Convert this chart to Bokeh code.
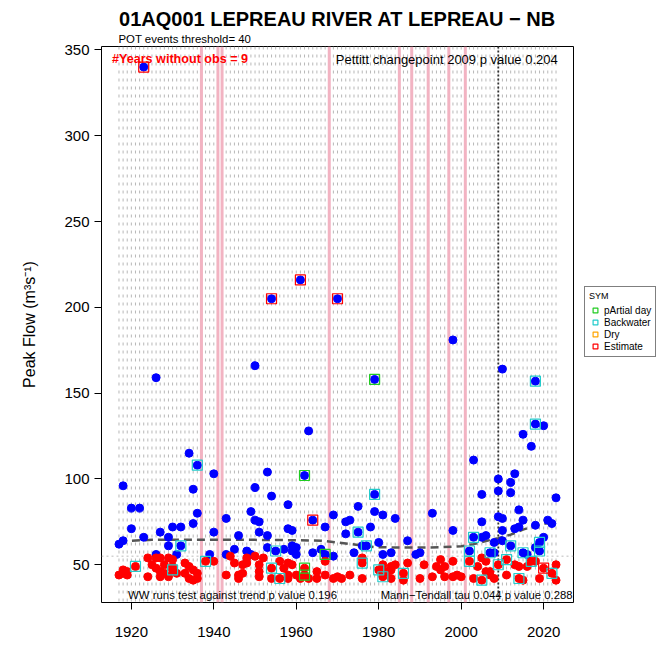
from bokeh.plotting import figure
from bokeh.layouts import row
from bokeh.models import (Range1d, Label, Span, Legend, LegendItem, FixedTicker,
                          ColumnDataSource, Title)
from bokeh.embed import file_html
from bokeh.resources import INLINE

FONT = "Liberation Sans"

TITLE = "01AQ001 LEPREAU RIVER AT LEPREAU \u2212 NB"
POT_TEXT = "POT events threshold= 40"
MISSING_TEXT = "#Years without obs = 9"
PETTITT_TEXT = "Pettitt changepoint 2009 p value 0.204"
WW_TEXT = "WW runs test against trend p value 0.196"
MK_TEXT = "Mann\u2212Tendall tau 0.044 p value 0.288"
Y_LABEL = "Peak Flow (m\u00b3s\u207b\u00b9)"

x_ticks = [1920, 1940, 1960, 1980, 2000, 2020]
y_ticks = [50, 100, 150, 200, 250, 300, 350]

first_year = 1917
last_year = 2023
missing_years = [1937, 1941, 1942, 1968, 1985, 1988, 1992, 1997, 2001]
pettitt_year = 2009
ref_level = 55

# events above the reference level (blue) : year, flow, symbol flag
blue_year = [1923, 1926, 1950, 1954, 1961, 1970, 1979, 1998, 2010, 2018,
             1963, 2015, 2018, 2020, 2017, 2003,
             1934, 1936, 1940, 1918, 1935, 1920, 1922, 1936, 1920, 1930, 1932, 1935, 1927, 1940,
             1923, 1918, 1917, 1929, 1929, 1932, 1931, 1926, 1939,
             1953, 1962, 1950, 1954, 1958, 1949, 1943, 1950, 1951, 1964, 1969, 1967, 1951, 1953,
             1958, 1959, 1946, 1945, 1943, 1948, 1949, 1953, 1955, 1957, 1959, 1960, 1959, 1960,
             1964, 1966, 1967, 1969,
             1979, 1975, 1979, 1981, 1984, 1993, 1972, 1973, 1978, 1972, 1975, 1998, 1980, 1987,
             1977, 1976, 1974, 1981, 1983, 1989, 1990,
             2013, 2012, 2009, 2009, 2005, 2023, 2012, 2014, 2009, 2010, 2015, 2005, 2021, 2022,
             2018, 2013, 2014, 2010, 2003, 2005, 2006, 2010, 2008, 2020, 2012, 2019, 2019, 2018,
             2002, 2007, 2008, 2015, 2016]
blue_flow = [340, 159, 166, 205, 216, 205, 158, 181, 164, 157,
             128, 126, 132, 131, 119, 111,
             115, 108, 103, 96, 94, 83, 83, 80, 71, 72, 72, 74, 69, 69,
             66, 64, 62, 66, 61, 61, 56, 56, 56,
             104, 102, 95, 90, 85, 81, 77, 76, 75, 76, 79, 72, 69, 67,
             71, 70, 67, 59, 56, 58, 56, 60, 58, 59, 61, 60, 58, 56,
             57, 59, 56, 55,
             91, 84, 81, 79, 77, 80, 75, 76, 72, 68, 69, 70, 63, 64,
             61, 61, 57, 56, 57, 56, 57,
             103, 98, 100, 93, 91, 89, 92, 82, 78, 77, 76, 75, 76, 74,
             73, 71, 72, 70, 66, 66, 67, 64, 63, 66, 61, 63, 58, 60,
             58, 57, 57, 57, 56]
blue_flag = ["E", "", "", "E", "E", "E", "P", "", "", "B",
             "", "", "B", "", "", "",
             "", "B", "", "", "", "", "", "", "", "", "", "", "", "",
             "", "", "", "", "", "B", "", "", "",
             "", "P", "", "", "", "", "", "", "", "E", "", "", "", "",
             "", "", "", "", "", "", "", "", "B", "", "", "", "", "",
             "", "", "P", "",
             "B", "", "", "", "", "", "", "", "", "", "B", "", "", "",
             "B", "", "", "", "", "", "",
             "", "", "", "", "", "", "", "", "", "", "", "", "", "",
             "", "", "", "", "B", "", "", "", "", "", "B", "B", "B", "",
             "B", "B", "", "B", ""]

# events below the reference level (red)
red_year = [1917, 1918, 1919, 1919, 1918, 1921, 1924, 1924, 1925, 1926, 1927, 1929, 1930, 1928,
            1930, 1927, 1928, 1927, 1929, 1930, 1931, 1933, 1934, 1933, 1934, 1935, 1936, 1935,
            1936, 1938, 1940, 1926,
            1943, 1944, 1945, 1947, 1948, 1946, 1947, 1948, 1950, 1946, 1951, 1951, 1951, 1952,
            1954, 1954, 1956, 1956, 1957, 1958, 1959, 1958, 1958, 1960, 1961, 1962, 1962, 1963,
            1965, 1965, 1967, 1967, 1969,
            1970, 1971, 1973, 1976, 1976, 1976, 1980, 1981, 1981, 1983, 1984, 1987, 1982, 1983,
            1983, 1986, 1986, 1990, 1991, 1993, 1994, 1995, 1995, 1996, 1996, 1998,
            1998, 1999, 2000, 2002, 2003, 2005, 2005, 2006, 2004, 2006, 2007, 2008, 2007, 2009,
            2011, 2011, 2013, 2014, 2014, 2015, 2016, 2017, 2018, 2020, 2022, 2023, 2023, 2019]
red_flow = [44, 45, 44, 46, 47, 49, 43, 54, 50, 48, 54, 54, 53, 50,
            49, 46, 45, 43, 43, 47, 45, 51, 49, 45, 42, 41, 45, 47,
            42, 52, 52, 54,
            44, 55, 51, 50, 51, 44, 45, 54, 55, 42, 50, 46, 43, 54,
            48, 42, 42, 52, 48, 51, 50, 44, 42, 44, 42, 48, 44, 42,
            42, 46, 52, 44, 42,
            43, 42, 44, 42, 54, 51, 47, 43, 50, 49, 50, 51, 46, 47,
            42, 41, 45, 42, 50, 43, 49, 53, 47, 43, 49, 52,
            43, 44, 43, 52, 42, 41, 54, 52, 49, 46, 44, 42, 46, 50,
            53, 44, 50, 49, 42, 41, 49, 52, 52, 48, 45, 50, 41, 42]
red_flag = ["", "", "", "", "", "B", "", "", "", "", "", "", "", "",
            "", "", "", "", "", "B", "", "", "", "", "", "", "", "",
            "", "B", "", "",
            "", "", "", "", "", "", "", "", "", "", "", "", "", "",
            "B", "", "B", "", "", "", "", "", "", "", "", "P", "P", "",
            "", "", "", "", "",
            "", "", "", "", "", "B", "B", "B", "", "", "", "", "", "",
            "", "", "B", "", "", "", "", "", "", "", "", "",
            "", "", "", "B", "", "B", "", "", "", "", "", "", "", "B",
            "B", "", "", "", "B", "", "", "B", "", "E", "B", "", "", ""]

trend_year = [1917, 1920, 1925, 1930, 1940, 1950, 1960, 1966, 1970, 1975, 1979, 1985,
              1990, 1995, 2000, 2003, 2006, 2009, 2012, 2015, 2018, 2022]
trend_flow = [63.5, 64.0, 64.5, 64.5, 64.5, 64.5, 64.3, 64.0, 63.0, 61.5, 60.3, 60.0,
              60.0, 60.2, 60.8, 62.0, 63.8, 65.5, 67.5, 70.5, 72.8, 74.8]

flag_names = [("P", "pArtial day", "#22CC22"), ("B", "Backwater", "#22CCCC"),
              ("D", "Dry", "#FFA500"), ("E", "Estimate", "#FF0000")]

p = figure(width=584, height=647, output_backend="svg", toolbar_location=None, title=None,
           x_range=Range1d(1912.76, 2027.24), y_range=Range1d(28, 352),
           min_border_left=101, min_border_right=11, min_border_top=46, min_border_bottom=45,
           background_fill_color="white", border_fill_color="white")

p.xgrid.visible = False
p.ygrid.visible = False
p.outline_line_color = "black"
p.outline_line_width = 1
p.outline_line_alpha = 1.0

for ax in (p.xaxis[0], p.yaxis[0]):
    ax.axis_line_color = None
    ax.minor_tick_line_color = None
    ax.major_tick_out = 7
    ax.major_tick_in = 0
    ax.major_tick_line_color = "black"
    ax.major_label_text_font = FONT
    ax.major_label_text_font_size = "15px"
    ax.major_label_text_color = "black"
p.xaxis.ticker = FixedTicker(ticks=x_ticks)
p.yaxis.ticker = FixedTicker(ticks=y_ticks)
p.xaxis.major_label_standoff = 17
p.yaxis.major_label_standoff = 5
p.yaxis.axis_label = Y_LABEL
p.yaxis.axis_label_text_font = FONT
p.yaxis.axis_label_text_font_size = "16px"
p.yaxis.axis_label_text_font_style = "normal"
p.yaxis.axis_label_text_color = "black"
p.yaxis.axis_label_standoff = 23

# titles (first added is closest to the plot)
p.add_layout(Title(text=POT_TEXT, align="left", offset=17, standoff=3,
                   text_font=FONT, text_font_size="11.4px", text_font_style="normal",
                   text_color="black"), "above")
p.add_layout(Title(text=TITLE, align="center", standoff=0,
                   text_font=FONT, text_font_size="20px", text_font_style="bold",
                   text_color="black"), "above")

# year grid (dotted grey)
for yr in range(first_year, last_year + 1):
    if yr in missing_years:
        continue
    p.add_layout(Span(location=yr, dimension="height", line_color="#B8B8B8",
                      line_width=1, line_dash="3 5", level="underlay"))
# missing years
for yr in missing_years:
    p.add_layout(Span(location=yr, dimension="height", line_color="#F2B3C2",
                      line_width=3, level="underlay"))
p.add_layout(Span(location=ref_level, dimension="width", line_color="#BBBBBB",
                  line_width=1, line_dash="2 3", level="underlay"))
p.add_layout(Span(location=pettitt_year, dimension="height", line_color="#333333",
                  line_width=1.8, line_dash="2 2", level="underlay"))

p.line(trend_year, trend_flow, line_color="#555555", line_width=2.5, line_dash="8 5")

p.scatter(blue_year, blue_flow, size=8, marker="circle", fill_color="#0000FF", line_color="#0000FF")
p.scatter(red_year, red_flow, size=8, marker="circle", fill_color="#FF0000", line_color="#FF0000")

all_year = blue_year + red_year
all_flow = blue_flow + red_flow
all_flag = blue_flag + red_flag
for code, name, col in flag_names:
    xs = [y for y, f in zip(all_year, all_flag) if f == code]
    ys = [v for v, f in zip(all_flow, all_flag) if f == code]
    src = ColumnDataSource(dict(x=xs, y=ys))
    p.scatter("x", "y", source=src, marker="square", size=10, fill_color=None,
              line_color=col, line_width=1.2)

p.add_layout(Label(x=1915.3, y=344.7, text=MISSING_TEXT, text_align="left", text_baseline="middle",
                   text_font=FONT, text_font_size="12.6px", text_font_style="bold",
                   text_color="#FF0000"))
p.add_layout(Label(x=1969.6, y=344.7, text=PETTITT_TEXT, text_align="left", text_baseline="middle",
                   text_font=FONT, text_font_size="13px", text_color="black"))
p.add_layout(Label(x=1919.2, y=32.1, text=WW_TEXT, text_align="left", text_baseline="middle",
                   text_font=FONT, text_font_size="11.4px", text_color="black"))
p.add_layout(Label(x=2027.0, y=32.1, text=MK_TEXT, text_align="right", text_baseline="middle",
                   text_font=FONT, text_font_size="11.3px", text_color="black"))

# legend panel (separate small figure to the right of the plot)
lg = figure(width=79, height=647, output_backend="svg", toolbar_location=None, title=None,
            x_axis_type=None, y_axis_type=None, x_range=Range1d(0, 1), y_range=Range1d(0, 1),
            min_border_left=0, min_border_right=0, min_border_top=0, min_border_bottom=0,
            outline_line_color=None, background_fill_color="white", border_fill_color="white")
lg.xgrid.visible = False
lg.ygrid.visible = False
items = []
nan = float("nan")
for code, name, col in flag_names:
    # placeholder source (nothing drawn in the plot area, only the legend swatch)
    r = lg.scatter(x=[nan], y=[nan], marker="square", size=10, fill_color=None,
                   line_color=col, line_width=1.2)
    items.append(LegendItem(label=name, renderers=[r]))
legend = Legend(items=items, title="SYM", location=(0, 245),
                title_text_font=FONT, title_text_font_size="9px", title_text_font_style="normal",
                title_text_color="black", title_standoff=3,
                label_text_font=FONT, label_text_font_size="10px", label_text_color="black",
                label_height=12, glyph_height=12, glyph_width=12, label_standoff=3,
                spacing=0, padding=4,
                border_line_color="black", border_line_width=1, background_fill_alpha=1,
                margin=0)
lg.add_layout(legend, "center")

layout = row(p, lg, spacing=0)
open("out.html", "w").write(file_html(layout, INLINE))
